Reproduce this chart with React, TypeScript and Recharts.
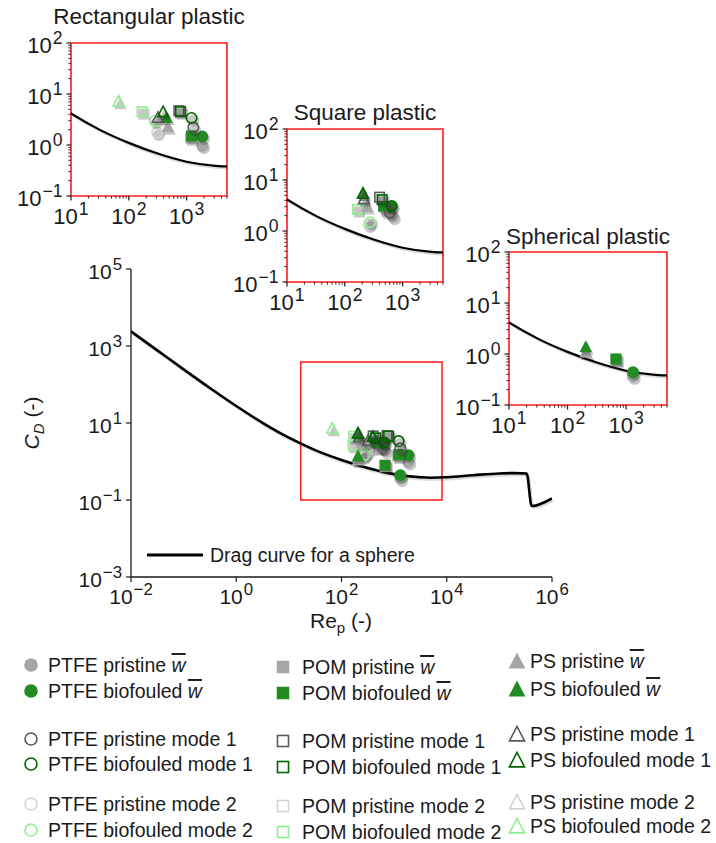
import React from 'react';
import { ComposedChart, Scatter, Line, XAxis, YAxis, ReferenceArea } from 'recharts';

const FONT = '"Liberation Sans", Arial, Helvetica, sans-serif';
const INK = '#1a1a1a';

// drag curve for a sphere
const DRAG_RE = [0.01, 0.0316, 0.1, 0.316, 1, 3.16, 10, 31.6, 100, 316, 1000, 3160, 5000, 10000, 31600, 100000, 200000, 330000, 410000, 1000000];
const DRAG_CD = [2400, 770, 247, 81, 27.6, 10.1, 4.15, 1.98, 1.1, 0.68, 0.47, 0.39, 0.38, 0.39, 0.44, 0.49, 0.5, 0.49, 0.07, 0.11];

const MATERIALS = ['PTFE', 'POM', 'PS'];
const CONDITIONS = ['pristine w', 'biofouled w', 'pristine mode 1', 'biofouled mode 1', 'pristine mode 2', 'biofouled mode 2'];

// [material, condition, Re_p, C_D]
const RECT_POINTS: [string, string, number, number][] = [
  ['PTFE', 'pristine w', 1870, 0.96],
  ['PTFE', 'biofouled w', 1875, 1.46],
  ['PTFE', 'pristine mode 1', 1310, 2.2],
  ['PTFE', 'biofouled mode 1', 1220, 3.4],
  ['PTFE', 'pristine mode 2', 309, 1.75],
  ['PTFE', 'biofouled mode 2', 281, 2.97],
  ['POM', 'pristine w', 1180, 1.38],
  ['POM', 'biofouled w', 1220, 1.51],
  ['POM', 'pristine mode 1', 735, 4.7],
  ['POM', 'biofouled mode 1', 787, 4.5],
  ['POM', 'biofouled mode 2', 170, 4.5],
  ['PS', 'pristine w', 473, 2.3],
  ['PS', 'biofouled w', 449, 3.5],
  ['PS', 'pristine mode 1', 320, 3.5],
  ['PS', 'biofouled mode 1', 393, 4.5],
  ['PS', 'biofouled mode 2', 66.5, 7.3],
];

const SQUARE_POINTS: [string, string, number, number][] = [
  ['PTFE', 'pristine w', 680, 1.9],
  ['PTFE', 'biofouled w', 630, 2.98],
  ['PTFE', 'pristine mode 1', 600, 2.3],
  ['PTFE', 'biofouled mode 1', 650, 3.1],
  ['PTFE', 'pristine mode 2', 258, 1.34],
  ['PTFE', 'biofouled mode 2', 276, 1.49],
  ['POM', 'pristine w', 537, 2.44],
  ['POM', 'biofouled w', 469, 3.05],
  ['POM', 'pristine mode 1', 400, 4.6],
  ['POM', 'biofouled mode 1', 446, 4.1],
  ['POM', 'biofouled mode 2', 166, 2.64],
  ['PS', 'pristine w', 242, 3.05],
  ['PS', 'biofouled w', 206, 5.6],
  ['PS', 'pristine mode 1', 215, 4.3],
  ['PS', 'biofouled mode 1', 206, 5.5],
];

const SPHERE_POINTS: [string, string, number, number][] = [
  ['PTFE', 'pristine w', 1312, 0.36],
  ['PTFE', 'biofouled w', 1312, 0.44],
  ['POM', 'pristine w', 680, 0.74],
  ['POM', 'biofouled w', 671, 0.8],
  ['PS', 'pristine w', 205, 1.1],
  ['PS', 'biofouled w', 205, 1.4],
];

const MAIN_X_TICKS = [1e-2, 1, 1e2, 1e4, 1e6];
const MAIN_Y_TICKS = [1e-3, 1e-1, 1e1, 1e3, 1e5];
const INSET_X_TICKS = [10, 20, 30, 40, 50, 60, 70, 80, 90, 100, 200, 300, 400, 500, 600, 700, 800, 900, 1000, 2000, 3000, 4000, 5000];
const INSET_Y_TICKS = [0.1, 0.2, 0.3, 0.4, 0.5, 0.6, 0.7, 0.8, 0.9, 1, 2, 3, 4, 5, 6, 7, 8, 9, 10, 20, 30, 40, 50, 60, 70, 80, 90, 100];

const COND_STYLE: Record<string, { color: string; open: boolean }> = {
  'pristine w': { color: '#a6a6a6', open: false },
  'biofouled w': { color: '#228b22', open: false },
  'pristine mode 1': { color: '#595959', open: true },
  'biofouled mode 1': { color: '#006400', open: true },
  'pristine mode 2': { color: '#d3d3d3', open: true },
  'biofouled mode 2': { color: '#90ee90', open: true },
};
const MAT_SHAPE: Record<string, string> = { PTFE: 'circle', POM: 'square', PS: 'triangle' };
const DRAW_ORDER = ['pristine mode 2', 'biofouled mode 2', 'pristine w', 'biofouled w', 'pristine mode 1', 'biofouled mode 1'];

const DRAG = DRAG_RE.map((re, i) => ({ re, cd: DRAG_CD[i] }));

const shapeEl = (kind: string, cx: number, cy: number, s: number, p: any) => {
  if (kind === 'circle') return <circle cx={cx} cy={cy} r={s} {...p} />;
  if (kind === 'square') return <rect x={cx - s * 0.92} y={cy - s * 0.92} width={s * 1.84} height={s * 1.84} {...p} />;
  return <polygon points={`${cx},${cy - s * 1.05} ${cx - s * 1.05},${cy + s * 0.95} ${cx + s * 1.05},${cy + s * 0.95}`} {...p} />;
};

const Marker = ({ cx, cy, kind, color, open, shadow = true, s = 6 }: any) => {
  if (cx == null || cy == null) return null;
  return (
    <g>
      {shadow && shapeEl(kind, cx + 1.8, cy + 2.4, s, { fill: 'rgba(40,40,40,0.26)', stroke: 'none' })}
      {shapeEl(kind, cx, cy, open ? s - 0.8 : s, open ? { fill: 'none', stroke: color, strokeWidth: 1.6 } : { fill: color, stroke: 'none' })}
    </g>
  );
};

const PowText = ({ x, y, exp, anchor, fs }: any) => (
  <text x={x} y={y} textAnchor={anchor} fontFamily={FONT} fontSize={fs} fill={INK}>
    10
    <tspan dx={1} dy={-fs * 0.42} fontSize={fs * 0.8}>{exp < 0 ? `\u2212${-exp}` : `${exp}`}</tspan>
  </text>
);

const isMajor = (v: number) => Math.abs(Math.log10(v) - Math.round(Math.log10(v))) < 1e-6;

const XTick = ({ x, y, payload, len, fs }: any) => {
  const v = payload.value;
  const major = isMajor(v);
  return (
    <g>
      <line x1={x} x2={x} y1={y} y2={y + (major ? len : len * 0.6)} stroke={INK} strokeWidth={major ? 1.2 : 0.9} />
      {major && <PowText x={x} y={y + fs + 6} exp={Math.round(Math.log10(v))} anchor="middle" fs={fs} />}
    </g>
  );
};

const YTick = ({ x, y, payload, len, fs }: any) => {
  const v = payload.value;
  const major = isMajor(v);
  return (
    <g>
      <line x1={x - (major ? len : len * 0.6)} x2={x} y1={y} y2={y} stroke={INK} strokeWidth={major ? 1.2 : 0.9} />
      {major && <PowText x={x - len - 4} y={y + fs * 0.36 + 2} exp={Math.round(Math.log10(v))} anchor="end" fs={fs} />}
    </g>
  );
};

const CdPlot = ({ points, w, h, margin, xDomain, yDomain, xTicks, yTicks, inset, box, lineWidth, fs, len, yw }: any) => {
  const rows = points.map(([mat, cond, re, cd]: any) => ({ mat, cond, re, cd }));
  return (
    <ComposedChart width={w} height={h} margin={margin}>
      <XAxis
        type="number" dataKey="re" scale="log" domain={xDomain} ticks={xTicks} interval={0}
        allowDataOverflow height={40} tickSize={0} tickMargin={0} tickLine={false}
        axisLine={inset ? false : { stroke: INK, strokeWidth: 1.3 }}
        tick={(p: any) => <XTick {...p} len={len} fs={fs} />}
      />
      <YAxis
        type="number" dataKey="cd" scale="log" domain={yDomain} ticks={yTicks} interval={0}
        allowDataOverflow width={yw} tickSize={0} tickMargin={0} tickLine={false}
        axisLine={inset ? false : { stroke: INK, strokeWidth: 1.3 }}
        tick={(p: any) => <YTick {...p} len={len} fs={fs} />}
      />
      {inset && (
        <ReferenceArea x1={xDomain[0]} x2={xDomain[1]} y1={yDomain[0]} y2={yDomain[1]}
          fill="none" fillOpacity={0} stroke="#ff1a1a" strokeWidth={1.6} ifOverflow="visible" />
      )}
      {box && (
        <ReferenceArea x1={box[0]} x2={box[1]} y1={box[2]} y2={box[3]}
          fill="none" fillOpacity={0} stroke="#ff1a1a" strokeWidth={1.5} ifOverflow="visible" />
      )}
      <Line data={DRAG} dataKey="cd" className="curve-shadow" stroke="rgba(0,0,0,0.14)" strokeWidth={lineWidth}
        dot={false} activeDot={false} isAnimationActive={false} type="monotone" />
      <Line data={DRAG} dataKey="cd" stroke="#000" strokeWidth={lineWidth}
        dot={false} activeDot={false} isAnimationActive={false} type="monotone" />
      {DRAW_ORDER.flatMap((cond) =>
        MATERIALS.map((mat) => {
          const data = rows.filter((r: any) => r.mat === mat && r.cond === cond);
          if (!data.length) return null;
          const st = COND_STYLE[cond];
          return (
            <Scatter key={`${mat}-${cond}`} data={data} dataKey="cd" isAnimationActive={false}
              shape={(p: any) => <Marker cx={p.cx} cy={p.cy} kind={MAT_SHAPE[mat]} color={st.color} open={st.open} />} />
          );
        })
      )}
    </ComposedChart>
  );
};

const Cond = ({ mat, cond }: any) => {
  const wbar = cond.endsWith(' w');
  const base = wbar ? cond.slice(0, -2) : cond;
  return (
    <>
      {`${mat} ${base}`}
      {wbar && <tspan> </tspan>}
      {wbar && <tspan fontStyle="italic" style={{ textDecoration: 'overline' }}>w</tspan>}
    </>
  );
};

// legend layout: x of marker, x of text, row centres per column
const LEG_COLS = [
  { mx: 31, tx: 48, ys: [665, 691, 739, 764, 804, 830] },
  { mx: 283, tx: 302, ys: [667, 693, 741, 767, 806, 832] },
  { mx: 517, tx: 530, ys: [661, 689, 734, 760, 802, 826] },
];

const INSETS = [
  { title: 'Rectangular plastic', points: RECT_POINTS, left: 71, top: 43, w: 156, ty: 24 },
  { title: 'Square plastic', points: SQUARE_POINTS, left: 287, top: 129, w: 156, ty: 120 },
  { title: 'Spherical plastic', points: SPHERE_POINTS, left: 509, top: 252, w: 158, ty: 244 },
];

const PAD_L = 80;
const PAD_T = 20;

export default function App() {
  const all = [...RECT_POINTS, ...SQUARE_POINTS, ...SPHERE_POINTS];
  return (
    <div style={{ position: 'absolute', left: 0, top: 0, width: 716, height: 843, background: '#fff', overflow: 'hidden' }}>
      <style>{`.curve-shadow { transform: translate(1.5px, 2px); }`}</style>
      <div style={{ position: 'absolute', left: 0, top: 0 }}>
        <CdPlot
          points={all} w={716} h={650}
          margin={{ top: 269, left: 51, right: 164, bottom: 33 }}
          xDomain={[1e-2, 1e6]} yDomain={[1e-3, 1e5]}
          xTicks={MAIN_X_TICKS} yTicks={MAIN_Y_TICKS} yw={80}
          box={[16.8, 8130, 0.1, 385]} lineWidth={2.6} fs={21} len={5}
        />
      </div>
      {INSETS.map((ins) => (
        <div key={ins.title} style={{ position: 'absolute', left: ins.left - PAD_L, top: ins.top - PAD_T }}>
          <CdPlot
            points={ins.points} w={PAD_L + ins.w + 12} h={PAD_T + 153 + 40}
            margin={{ top: PAD_T, left: 0, right: 12, bottom: 0 }}
            xDomain={[10, 5000]} yDomain={[0.1, 100]}
            xTicks={INSET_X_TICKS} yTicks={INSET_Y_TICKS} yw={PAD_L}
            inset lineWidth={2.2} fs={22} len={4.5}
          />
        </div>
      ))}
      <svg width={716} height={843} style={{ position: 'absolute', left: 0, top: 0, pointerEvents: 'none' }}>
        {INSETS.map((ins) => (
          <text key={ins.title} x={ins.left + ins.w / 2} y={ins.ty} textAnchor="middle" fontFamily={FONT} fontSize={22.5} fill={INK}>
            {ins.title}
          </text>
        ))}
        <text transform="translate(39,423) rotate(-90)" textAnchor="middle" fontFamily={FONT} fontSize={21} fill={INK}>
          <tspan fontStyle="italic">C</tspan>
          <tspan dy={5} fontSize={15} fontStyle="italic">D</tspan>
          <tspan dy={-5}> (-)</tspan>
        </text>
        <text x={341} y={628} textAnchor="middle" fontFamily={FONT} fontSize={21} fill={INK}>
          Re<tspan dy={5} fontSize={15}>p</tspan>
          <tspan dy={-5}> (-)</tspan>
        </text>
        <line x1={147} x2={203} y1={555} y2={555} stroke="#000" strokeWidth={3} />
        <text x={210} y={562} fontFamily={FONT} fontSize={19.5} fill={INK}>Drag curve for a sphere</text>
        {MATERIALS.map((mat, ci) =>
          CONDITIONS.map((cond, ri) => {
            const col = LEG_COLS[ci];
            const y = col.ys[ri];
            const st = COND_STYLE[cond];
            return (
              <g key={`${mat}-${cond}`}>
                <Marker cx={col.mx} cy={y} kind={MAT_SHAPE[mat]} color={st.color} open={st.open} shadow={false} s={ci === 2 ? 8 : 6.8} />
                <text x={col.tx} y={y + 7} fontFamily={FONT} fontSize={19.5} fill={INK}>
                  <Cond mat={mat} cond={cond} />
                </text>
              </g>
            );
          })
        )}
      </svg>
    </div>
  );
}
